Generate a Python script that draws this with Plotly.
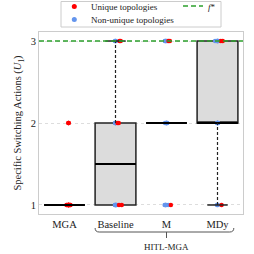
import plotly.graph_objects as go

categories = ["MGA", "Baseline", "M", "MDy"]
positions = [0, 1, 2, 3]

# box statistics
q1 = [1, 1, 2, 2]
median = [1, 1.5, 2, 2]
q3 = [1, 2, 2, 3]
lower_whisker = [1, 1, 2, 1]
upper_whisker = [1, 3, 2, 3]

# strip points (estimated counts)
unique_pts = {
    "MGA": [1] * 12 + [2] * 3,
    "Baseline": [1] * 2 + [2] * 2 + [3] * 2,
    "M": [3] * 2 + [1] * 1,
    "MDy": [3] * 2 + [1] * 1,
}
nonunique_pts = {
    "MGA": [],
    "Baseline": [1] * 6 + [2] * 5 + [3] * 3,
    "M": [3] * 5 + [2] * 6 + [1] * 5,
    "MDy": [3] * 6 + [2] * 6 + [1] * 2,
}
f_star = 3

legend_labels = ["Unique topologies", "Non-unique topologies", "<i>f</i>*"]
RED, BLUE, GREEN = "#ff0000", "#6495ED", "#2ca02c"

FONT = "Liberation Serif"
BOXW = 0.8
CAPW = 0.4
DASH = "3px,2px"

fig = go.Figure()

# boxes
fig.add_trace(go.Box(
    x=positions, q1=q1, median=median, q3=q3,
    lowerfence=q1, upperfence=q3,
    width=BOXW, fillcolor="#dcdcdc",
    line=dict(color="#222222", width=1.5),
    boxpoints=False, showlegend=False, hoverinfo="skip",
))

# medians (thicker)
for p, m in zip(positions, median):
    fig.add_trace(go.Scatter(
        x=[p - BOXW / 2, p + BOXW / 2], y=[m, m], mode="lines",
        line=dict(color="black", width=2.2), showlegend=False, hoverinfo="skip"))

# dashed whiskers with caps
for p, lo, a, b, hi in zip(positions, lower_whisker, q1, q3, upper_whisker):
    if hi > b:
        fig.add_trace(go.Scatter(x=[p, p], y=[b, hi], mode="lines",
                                 line=dict(color="#222", width=1.2, dash=DASH),
                                 showlegend=False, hoverinfo="skip"))
        fig.add_trace(go.Scatter(x=[p - CAPW / 2, p + CAPW / 2], y=[hi, hi], mode="lines",
                                 line=dict(color="#222", width=1.5),
                                 showlegend=False, hoverinfo="skip"))
    if lo < a:
        fig.add_trace(go.Scatter(x=[p, p], y=[lo, a], mode="lines",
                                 line=dict(color="#222", width=1.2, dash=DASH),
                                 showlegend=False, hoverinfo="skip"))
        fig.add_trace(go.Scatter(x=[p - CAPW / 2, p + CAPW / 2], y=[lo, lo], mode="lines",
                                 line=dict(color="#222", width=1.5),
                                 showlegend=False, hoverinfo="skip"))

# f* line
fig.add_trace(go.Scatter(x=[-0.5, 3.5], y=[f_star, f_star], mode="lines",
                         line=dict(color=GREEN, width=1.5, dash="5px,3px"),
                         showlegend=False, hoverinfo="skip"))

# points
def pts_trace(d, color, pointpos):
    xs, ys = [], []
    for p, c in zip(positions, categories):
        xs += [p] * len(d[c])
        ys += d[c]
    return go.Box(x=xs, y=ys, width=BOXW, boxpoints="all", jitter=0.12, pointpos=pointpos,
                  fillcolor="rgba(0,0,0,0)", line=dict(width=0, color="rgba(0,0,0,0)"),
                  marker=dict(color=color, size=4.5), showlegend=False, hoverinfo="skip")

fig.add_trace(pts_trace(nonunique_pts, BLUE, 0))
fig.add_trace(pts_trace(unique_pts, RED, 0.2))

# ---- manual legend (paper coordinates) ----
PW, PH, PL, PB = 204.0, 182.0, 39.0, 214.0
def px(x): return (x - PL) / PW
def py(y): return (PB - y) / PH

fig.add_shape(type="rect", xref="paper", yref="paper",
              x0=px(61), x1=px(221), y0=py(27), y1=py(1.5),
              line=dict(color="#cccccc", width=1), fillcolor="white", layer="above")
for (cy, col) in [(6.5, RED), (19.5, BLUE)]:
    fig.add_shape(type="circle", xref="paper", yref="paper",
                  x0=px(71.8), x1=px(76.8), y0=py(cy + 2.5), y1=py(cy - 2.5),
                  line=dict(width=0), fillcolor=col, layer="above")
fig.add_shape(type="line", xref="paper", yref="paper",
              x0=px(183), x1=px(203), y0=py(6), y1=py(6),
              line=dict(color=GREEN, width=1.5, dash="5px,3px"), layer="above")
for text, lx, ly in [(legend_labels[0], 89, 6.5), (legend_labels[1], 89, 19.5),
                     (legend_labels[2], 206, 6.5)]:
    fig.add_annotation(x=px(lx), y=py(ly), xref="paper", yref="paper", text=text,
                       showarrow=False, xanchor="left", yanchor="middle",
                       font=dict(family=FONT, size=9, color="#222"))

# ---- HITL-MGA bracket ----
bx0, bx1, bmid = 0.60, 3.32, 2.0
yb, yup, ydn = py(232), py(228), py(238)
fig.add_shape(type="path", xref="x", yref="paper",
              path=f"M {bx0},{yup} Q {bx0},{yb} {bx0+0.08},{yb} L {bx1-0.08},{yb} Q {bx1},{yb} {bx1},{yup}",
              line=dict(color="#555", width=1))
fig.add_shape(type="line", xref="x", yref="paper", x0=bmid, x1=bmid, y0=yb, y1=ydn,
              line=dict(color="#555", width=1))
fig.add_annotation(x=bmid, y=py(247), xref="x", yref="paper", text="HITL-MGA",
                   showarrow=False, yanchor="middle", font=dict(family=FONT, size=9, color="#222"))

fig.update_layout(
    width=254, height=254,
    margin=dict(l=39, r=11, t=32, b=40),
    plot_bgcolor="white", paper_bgcolor="white",
    font=dict(family=FONT, size=10.5, color="#222"),
    boxmode="overlay", showlegend=False,
    xaxis=dict(range=[-0.5, 3.5], tickvals=positions, ticktext=categories,
               showgrid=False, zeroline=False, showline=True, mirror=True,
               linecolor="#cccccc", ticks="", tickfont=dict(size=10.5)),
    yaxis=dict(range=[0.89, 3.11], tickvals=[1, 2, 3], ticktext=["1", "2", "3"],
               showgrid=True, gridcolor="#dddddd", griddash="dot", zeroline=False,
               showline=True, mirror=True, linecolor="#cccccc", ticks="",
               title=dict(text="Specific Switching Actions (<i>U</i><sub>1</sub>)",
                          font=dict(size=10.5), standoff=6),
               tickfont=dict(size=10.5)),
)

fig.write_html("out.html", config={"displayModeBar": False},
               post_script="document.body.style.margin='0';")
